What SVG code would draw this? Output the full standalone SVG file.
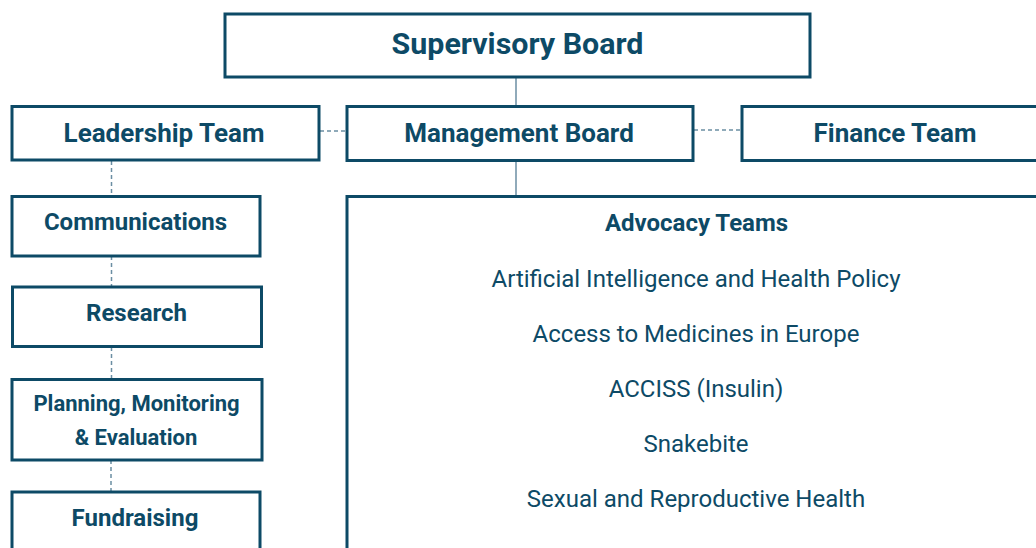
<svg xmlns="http://www.w3.org/2000/svg" width="1036" height="548" viewBox="0 0 1036 548">
  <style>
    .box { fill: #ffffff; stroke: #0d4a66; stroke-width: 3; }
    .solid { stroke: #6b8ea3; stroke-width: 1.5; fill: none; }
    .dash { stroke: #6b8ea3; stroke-width: 1.5; fill: none; stroke-dasharray: 4 3; }
    text { font-family: Roboto, "Liberation Sans", sans-serif; fill: #0d4a66; text-anchor: middle; }
    .h1 { font-size: 30.4px; font-weight: 700; }
    .h2 { font-size: 26px; font-weight: 700; }
    .h3 { font-size: 24px; font-weight: 700; }
    .h4 { font-size: 22px; font-weight: 700; }
    .item { font-size: 24px; font-weight: 400; }
  </style>
  <rect width="1036" height="548" fill="#ffffff"/>

  <!-- connectors -->
  <g id="connectors">
    <line class="solid" x1="516" y1="77" x2="516" y2="106"/>
    <line class="solid" x1="516" y1="161" x2="516" y2="196"/>
    <line class="dash" x1="320" y1="131" x2="346" y2="131"/>
    <line class="dash" x1="694" y1="130" x2="741" y2="130"/>
    <line class="dash" x1="111.5" y1="161" x2="111.5" y2="196"/>
    <line class="dash" x1="111.5" y1="256" x2="111.5" y2="287"/>
    <line class="dash" x1="111.5" y1="347" x2="111.5" y2="379"/>
    <line class="dash" x1="111" y1="460" x2="111" y2="492"/>
  </g>

  <g id="supervisory-board">
    <rect class="box" x="225" y="14" width="585" height="63"/>
    <text class="h1" x="517.5" y="54">Supervisory Board</text>
  </g>

  <g id="leadership-team">
    <rect class="box" x="12" y="106.5" width="307" height="53.5"/>
    <text class="h2" x="164" y="142">Leadership Team</text>
  </g>

  <g id="management-board">
    <rect class="box" x="347" y="106.5" width="346" height="54"/>
    <text class="h2" x="519" y="142">Management Board</text>
  </g>

  <g id="finance-team">
    <rect class="box" x="742" y="106.5" width="310" height="54"/>
    <text class="h2" x="895" y="142">Finance Team</text>
  </g>

  <g id="communications">
    <rect class="box" x="12" y="196.5" width="248" height="59.5"/>
    <text class="h3" x="135.5" y="230">Communications</text>
  </g>

  <g id="research">
    <rect class="box" x="12.5" y="287" width="249" height="59.5"/>
    <text class="h3" x="136.5" y="321">Research</text>
  </g>

  <g id="planning">
    <rect class="box" x="12" y="379.5" width="250" height="80.5"/>
    <text class="h4" x="136.5" y="411">Planning, Monitoring</text>
    <text class="h4" x="136" y="445">&amp; Evaluation</text>
  </g>

  <g id="fundraising">
    <rect class="box" x="12" y="492" width="248" height="70"/>
    <text class="h3" x="135" y="526">Fundraising</text>
  </g>

  <g id="advocacy-teams">
    <rect class="box" x="347" y="196.5" width="710" height="370"/>
    <text class="h3" x="696.5" y="231">Advocacy Teams</text>
    <text class="item" x="696" y="287">Artificial Intelligence and Health Policy</text>
    <text class="item" x="696" y="342">Access to Medicines in Europe</text>
    <text class="item" x="696" y="397">ACCISS (Insulin)</text>
    <text class="item" x="696" y="452">Snakebite</text>
    <text class="item" x="696" y="507">Sexual and Reproductive Health</text>
  </g>
</svg>
